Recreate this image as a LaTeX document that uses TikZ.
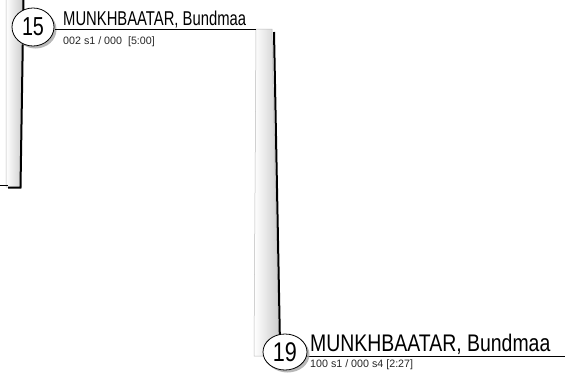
\documentclass[tikz,border=0pt]{standalone}
\usepackage{fontspec}
\usepackage{graphicx}
\setmainfont{Liberation Sans}
\usetikzlibrary{shadows,shapes.geometric}
\tikzset{
  seed/.style={ellipse, draw=black, line width=0.8pt, fill=white, inner sep=0pt,
    drop shadow={shadow xshift=2.5pt, shadow yshift=-2.5pt, fill=gray!70, opacity=0.8}},
  barfill/.style={left color=white, right color=gray!40, draw=gray!55, line width=0.5pt},
  barshade/.style={line width=2pt, black},
  conn/.style={line width=1pt, black},
  nametext/.style={anchor=base west, inner sep=0pt},
  subtext/.style={anchor=base west, inner sep=0pt, font=\fontsize{10.7}{12}\selectfont, text=black!85}
}
\begin{document}
\begin{tikzpicture}[x=1pt,y=-1pt]
\useasboundingbox (0,0) rectangle (568,376);
% left bar (from previous match)
\path[barfill] (6,-2) -- (23,-2) -- (20,187) -- (6,187) -- cycle;
\draw[barshade] (23.5,-2) -- (20.5,187.5) -- (8,187.5);
\coordinate (lb) at (8,185);
\coordinate (le) at (0,185);
\draw[conn] (le) -- (lb);
% right bar
\path[barfill] (256,29) -- (272,29) -- (279,356) -- (254,356) -- cycle;
\draw[barshade] (274,32) -- (280,345);
% seed 15
\node[seed, minimum width=42pt, minimum height=38pt] (c15) at (33,27) {\scalebox{0.76}[1]{\fontsize{26}{28}\selectfont 15}};
\coordinate (l15s) at (55,29);
\coordinate (l15e) at (256,29);
\draw[conn] (l15s) -- (l15e);
\node[nametext] (n15) at (63,25) {\scalebox{0.74}[1]{\fontsize{20}{22}\selectfont MUNKHBAATAR, Bundmaa}};
\node[subtext] (s15) at (63,44) {002 s1 / 000\ \ [5:00]};
% seed 19
\coordinate (l19s) at (300,356);
\coordinate (l19e) at (565,356);
\draw[conn] (l19s) -- (l19e);
\node[seed, minimum width=44pt, minimum height=36pt] (c19) at (285,352) {\scalebox{0.8}[1]{\fontsize{27}{29}\selectfont 19}};
\node[nametext] (n19) at (310,351) {\scalebox{0.81}[1]{\fontsize{24}{26}\selectfont MUNKHBAATAR, Bundmaa}};
\node[subtext] (s19) at (310,367) {100 s1 / 000 s4 [2:27]};
\end{tikzpicture}
\end{document}
